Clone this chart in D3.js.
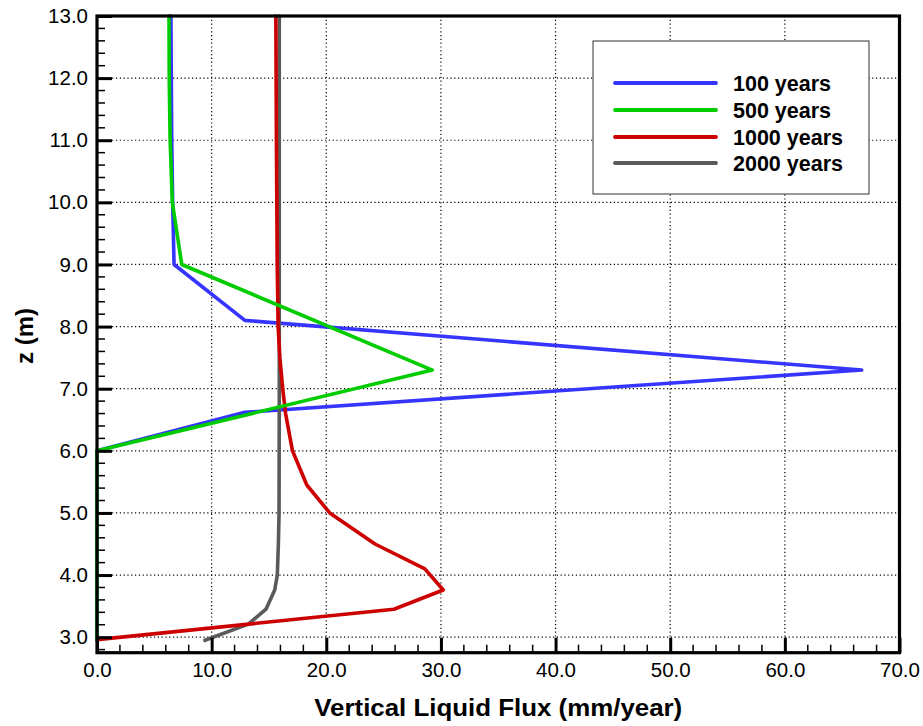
<!DOCTYPE html>
<html><head><meta charset="utf-8">
<script src="https://cdn.jsdelivr.net/npm/d3@7"></script>
<style>
body{margin:0;background:#fff;}
text{font-family:"Liberation Sans",Arial,Helvetica,sans-serif;}
</style></head>
<body><svg id="c" width="923" height="726"></svg>
<script>
const seriesNames = ["100 years","500 years","1000 years","2000 years"];
const seriesColors = ["#3535ff","#00cc00","#cc0000","#5a5a5a"];
const z100  = [13, 12, 11, 10, 9, 8.1, 7.3, 6.62, 6.0, 2.95];
const v100  = [6.45, 6.48, 6.52, 6.6, 6.72, 12.9, 66.7, 12.9, 0.0, 0.0];
const z500  = [13, 12, 11, 10, 9, 7.3, 6.0, 2.95];
const v500  = [6.28, 6.3, 6.38, 6.57, 7.39, 29.25, 0.0, 0.0];
const z1000 = [13, 11, 9, 8, 7.5, 7.0, 6.6, 6.2, 6.0, 5.45, 5.0, 4.5, 4.1, 3.76, 3.45, 2.96];
const v1000 = [15.6, 15.65, 15.72, 15.8, 15.95, 16.2, 16.45, 16.85, 17.05, 18.3, 20.3, 24.25, 28.6, 30.2, 25.9, 0.0];
const z2000 = [13, 10, 7, 5, 4.5, 4.0, 3.76, 3.45, 3.21, 2.95];
const v2000 = [15.9, 15.9, 15.9, 15.88, 15.82, 15.73, 15.5, 14.74, 13.2, 9.42];
const xTicks = [0,10,20,30,40,50,60,70];
const yTicks = [3,4,5,6,7,8,9,10,11,12,13];

const svg = d3.select("#c");
const L=97, R=899.5, T=16, B=652.7;
const x = d3.scaleLinear().domain([0,70]).range([L,R]);
const y = d3.scaleLinear().domain([2.75,13]).range([B,T]);

// grid
const g = svg.append("g");
g.selectAll(".gx").data(xTicks.filter(d=>d>0&&d<70)).join("line")
 .attr("x1",d=>x(d)).attr("x2",d=>x(d)).attr("y1",T).attr("y2",B)
 .attr("stroke","#000").attr("stroke-width",1.2).attr("stroke-dasharray","1.2,2.6");
g.selectAll(".gy").data(yTicks.filter(d=>d<13)).join("line")
 .attr("y1",d=>y(d)).attr("y2",d=>y(d)).attr("x1",L).attr("x2",R)
 .attr("stroke","#000").attr("stroke-width",1.2).attr("stroke-dasharray","1.2,2.6");

// lines
const data = [[z100,v100],[z500,v500],[z1000,v1000],[z2000,v2000]];
const line = d3.line().x(d=>x(d[1])).y(d=>y(d[0]));
const order=[0,3,2,1];
order.forEach(i=>{
  const pts = data[i][0].map((z,k)=>[z,data[i][1][k]]);
  svg.append("path").datum(pts).attr("d",line).attr("fill","none")
   .attr("stroke",seriesColors[i]).attr("stroke-width",3.6)
   .attr("stroke-linejoin","round").attr("stroke-linecap","round");
});

// axes
const xMinor = d3.range(0,70.01,2).filter(d=>d%10!==0);
const yMinor = d3.range(2.8,13.001,0.2).map(d=>+d.toFixed(1)).filter(d=>Math.abs(d-Math.round(d))>1e-6);
const ax = svg.append("g");
ax.selectAll(".xm").data(xMinor).join("line").attr("x1",d=>x(d)).attr("x2",d=>x(d))
 .attr("y1",B).attr("y2",B-8).attr("stroke","#000").attr("stroke-width",1.5);
ax.selectAll(".ym").data(yMinor).join("line").attr("y1",d=>y(d)).attr("y2",d=>y(d))
 .attr("x1",L).attr("x2",L+8).attr("stroke","#000").attr("stroke-width",1.5);

const xAxis = d3.axisBottom(x).tickValues(xTicks).tickSize(-15).tickPadding(10).tickFormat(d3.format(".1f"));
const gx = svg.append("g").attr("transform",`translate(0,${B})`).call(xAxis);
gx.select(".domain").remove();
gx.selectAll(".tick line").attr("stroke","#000").attr("stroke-width",3);
gx.selectAll(".tick text").attr("font-size",20.5).attr("fill","#000").attr("dy","0.71em")
 .style("font-family","Liberation Sans, Arial, sans-serif");

const yAxis = d3.axisLeft(y).tickValues(yTicks).tickSize(-15).tickPadding(9).tickFormat(d3.format(".1f"));
const gy = svg.append("g").attr("transform",`translate(${L},0)`).call(yAxis);
gy.select(".domain").remove();
gy.selectAll(".tick line").attr("stroke","#000").attr("stroke-width",3);
gy.selectAll(".tick text").attr("font-size",20.5).attr("fill","#000")
 .style("font-family","Liberation Sans, Arial, sans-serif");

// frame
svg.append("rect").attr("x",L).attr("y",T).attr("width",R-L).attr("height",B-T)
 .attr("fill","none").attr("stroke","#000").attr("stroke-width",3.2);

// titles
svg.append("text").attr("x",(L+R)/2).attr("y",716).attr("text-anchor","middle")
 .attr("font-size",24).attr("font-weight","bold").attr("textLength",368).attr("lengthAdjust","spacingAndGlyphs")
 .text("Vertical Liquid Flux (mm/year)");
svg.append("text").attr("transform","translate(33,336) rotate(-90)").attr("text-anchor","middle")
 .attr("font-size",24).attr("font-weight","bold").text("z  (m)");

// legend
const lg = svg.append("g");
lg.append("rect").attr("x",593).attr("y",41).attr("width",276).attr("height",153)
 .attr("fill","#fff").attr("stroke","#333").attr("stroke-width",1);
const rows=[83,110,137,163];
seriesNames.forEach((n,i)=>{
  lg.append("line").attr("x1",615).attr("x2",716).attr("y1",rows[i]).attr("y2",rows[i])
   .attr("stroke",seriesColors[i]).attr("stroke-width",3.8).attr("stroke-linecap","round");
  lg.append("text").attr("x",733).attr("y",rows[i]+7.5).attr("font-size",21.5)
   .attr("font-weight","bold").attr("fill","#000").text(n);
});
</script></body></html>
